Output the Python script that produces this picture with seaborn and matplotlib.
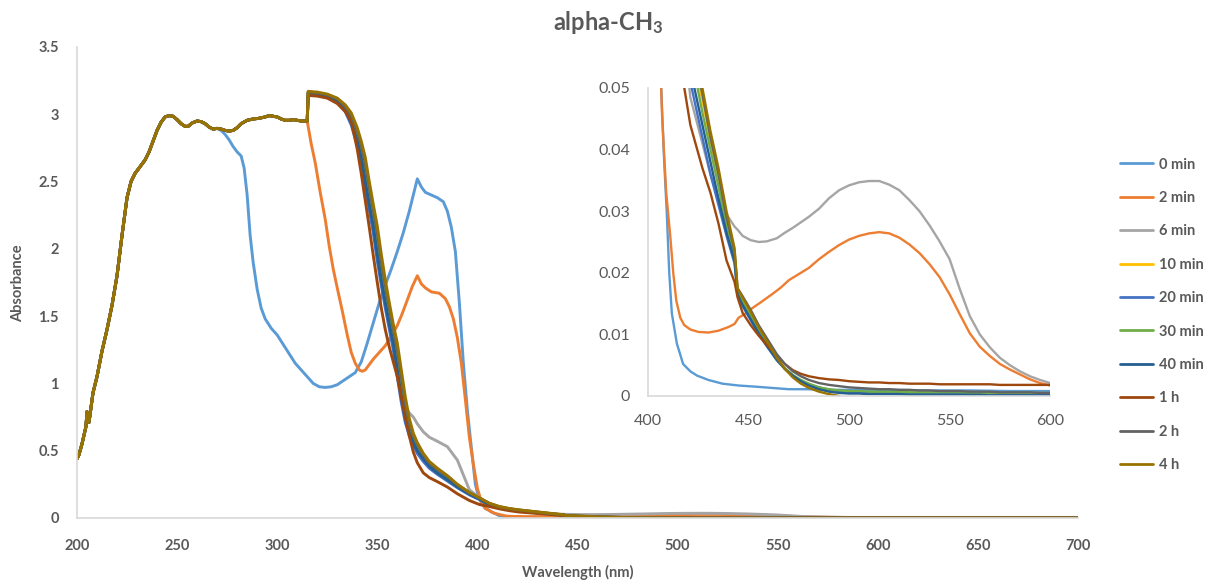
import numpy as np
import pandas as pd
import matplotlib
matplotlib.use("Agg")
import matplotlib.pyplot as plt
from matplotlib.lines import Line2D
from matplotlib.ticker import FuncFormatter
import seaborn as sns

# ---------------- data ----------------
series_names = ["0 min", "2 min", "6 min", "10 min", "20 min", "30 min",
                "40 min", "1 h", "2 h", "4 h"]
series_colors = ["#5B9BD5", "#ED7D31", "#A5A5A5", "#FFC000", "#4472C4",
                 "#70AD47", "#255E91", "#9E480E", "#636363", "#997300"]

# shared spectrum 200-315 nm (identical for all samples)
wl_common = [200, 201, 202.5, 204.5, 205, 206, 208, 210, 212.5, 215, 217.5, 220,
             222.5, 225, 227, 229, 231.5, 234, 236, 238, 240, 242, 244, 246, 248,
             250, 252, 254, 255.5, 257.5, 260, 262, 264, 266, 268, 270, 272, 274,
             276, 278, 280, 282, 285, 288, 291, 294, 296, 298, 300, 302, 304, 306,
             308, 310, 312, 315]
abs_common = [0.44, 0.47, 0.55, 0.68, 0.79, 0.71, 0.93, 1.05, 1.24, 1.40, 1.58, 1.80,
              2.10, 2.38, 2.50, 2.56, 2.61, 2.66, 2.72, 2.80, 2.88, 2.94, 2.98, 2.99,
              2.985, 2.96, 2.93, 2.91, 2.91, 2.935, 2.95, 2.945, 2.93, 2.905, 2.89,
              2.895, 2.89, 2.88, 2.875, 2.88, 2.90, 2.93, 2.955, 2.965, 2.97, 2.98,
              2.99, 2.985, 2.98, 2.965, 2.955, 2.955, 2.96, 2.955, 2.95, 2.95]

# 0 min: own values from 272 nm
wl_0min = [272, 274, 276, 278, 280, 282, 283.5, 285, 286.5, 288, 290, 292, 294, 297,
           300, 303, 306, 309, 312, 315, 318, 321, 324, 327, 330, 333, 336, 339, 342,
           345, 348, 351, 354, 357, 360, 363, 366, 368, 370, 372, 374, 377, 380, 383,
           385, 387, 389, 391, 393, 395, 397, 399, 400, 402, 404, 405, 406.5, 408,
           409.3, 410.5, 411.8, 414.3, 417.4, 421, 424.4, 430, 437, 445, 454, 462,
           470, 480, 490, 500, 520, 540, 560, 580, 600, 620, 640, 660, 680, 700]
abs_0min = [2.88, 2.85, 2.81, 2.76, 2.72, 2.69, 2.60, 2.40, 2.10, 1.90, 1.70, 1.56,
            1.48, 1.41, 1.36, 1.29, 1.22, 1.15, 1.10, 1.05, 1.00, 0.975, 0.97, 0.975,
            0.99, 1.02, 1.05, 1.08, 1.16, 1.30, 1.45, 1.60, 1.73, 1.85, 1.98, 2.12,
            2.28, 2.40, 2.52, 2.46, 2.42, 2.40, 2.38, 2.35, 2.28, 2.16, 1.98, 1.60,
            1.15, 0.80, 0.52, 0.25, 0.19, 0.11, 0.07, 0.065, 0.05, 0.038, 0.0296,
            0.02, 0.0134, 0.0085, 0.0052, 0.0040, 0.0033, 0.0026, 0.0020, 0.0017,
            0.0015, 0.0013, 0.0011, 0.0011, 0.0010, 0.0010, 0.0010, 0.0009, 0.0009,
            0.0008, 0.0008, 0.0008, 0.0007, 0.0007, 0.0006, 0.0006]

# 2 min: own values from 317 nm
wl_2min = [317, 319, 321.5, 324, 326, 328, 330, 332.5, 335, 337, 339, 341, 342.5, 344,
           346, 348, 351, 354, 357, 360, 362.5, 365, 367.5, 370, 372, 374, 377, 381,
           384, 386, 388, 390, 392, 394, 396, 398, 400, 402, 404, 406, 407, 409, 411,
           412.5, 414, 416, 418, 421, 425, 430, 435, 440, 443, 445, 448, 452, 456,
           462, 466, 470, 475, 480, 485, 490, 495, 500, 505, 510, 515, 520, 525, 530,
           535, 540, 545, 550, 555, 560, 565, 570, 575, 580, 585, 590, 595, 600, 620,
           640, 660, 680, 700]
abs_2min = [2.78, 2.64, 2.42, 2.22, 2.02, 1.85, 1.71, 1.54, 1.36, 1.23, 1.15, 1.10,
            1.09, 1.10, 1.14, 1.18, 1.23, 1.28, 1.35, 1.43, 1.52, 1.62, 1.72, 1.80,
            1.74, 1.71, 1.68, 1.67, 1.63, 1.57, 1.48, 1.34, 1.15, 0.88, 0.60, 0.40,
            0.22, 0.12, 0.07, 0.055, 0.045, 0.033, 0.026, 0.020, 0.0155, 0.0127,
            0.0115, 0.0108, 0.0104, 0.0103, 0.0106, 0.0112, 0.0117, 0.0127, 0.0133,
            0.0143, 0.0152, 0.0166, 0.0176, 0.0188, 0.0198, 0.0208, 0.0222, 0.0234,
            0.0245, 0.0254, 0.0260, 0.0264, 0.0266, 0.0264, 0.0257, 0.0246, 0.0232,
            0.0214, 0.0193, 0.0165, 0.0133, 0.0102, 0.0080, 0.0065, 0.0052, 0.0043,
            0.0035, 0.0027, 0.0021, 0.0017, 0.0012, 0.0010, 0.0009, 0.0008, 0.0008]

# 6 min ... 4 h: own values from 315.5 nm (after detector step)
wl_late = [315.5, 320, 325, 330, 334, 337, 340, 342, 344, 346, 348, 350, 352, 354,
           356, 358, 360, 362, 364, 366, 368, 370, 373, 376, 380, 385, 390, 396, 401,
           406, 411, 416, 421, 427, 431, 435, 439, 443, 444.5, 447, 451, 455, 459,
           464, 468, 472, 476, 480, 485, 490, 495, 500, 505, 510, 515, 520, 525, 530,
           535, 540, 545, 550, 555, 560, 565, 570, 575, 580, 585, 590, 595, 600, 620,
           640, 660, 680, 700]
abs_6min = [3.165, 3.16, 3.145, 3.10, 3.04, 2.96, 2.825, 2.71, 2.545, 2.37, 2.21, 2.01,
            1.82, 1.64, 1.48, 1.335, 1.15, 0.97, 0.83, 0.78, 0.75, 0.70, 0.64, 0.60,
            0.57, 0.53, 0.43, 0.21, 0.15, 0.105, 0.08, 0.064, 0.0485, 0.041, 0.036,
            0.032, 0.0295, 0.0275, 0.027, 0.026, 0.0253, 0.025, 0.0251, 0.0256,
            0.0265, 0.0273, 0.0282, 0.0291,
            0.0304, 0.0321, 0.0334, 0.0342, 0.0347, 0.0349, 0.0349, 0.0343, 0.0334,
            0.0318, 0.0300, 0.0277, 0.0251, 0.0222, 0.0174, 0.0130, 0.0100, 0.0079,
            0.0062, 0.0050, 0.0040, 0.0032, 0.0026, 0.0021,
            0.0014, 0.0011, 0.0010, 0.0009, 0.0009]
abs_10min = [3.165, 3.16, 3.145, 3.11, 3.05, 2.975, 2.85, 2.74, 2.59, 2.415, 2.25,
             2.065, 1.865, 1.685, 1.52, 1.37, 1.20, 1.00, 0.82, 0.685, 0.595, 0.54,
             0.465, 0.405, 0.355, 0.305, 0.243, 0.185, 0.146, 0.104, 0.082, 0.068,
             0.058, 0.048, 0.0415, 0.0355, 0.0285, 0.023, 0.017, 0.0155, 0.0132,
             0.0108, 0.0086, 0.0060, 0.0045, 0.0033, 0.0024, 0.0017,
             0.0011, 0.0008, 0.0006, 0.0005, 0.0005, 0.0004, 0.0004, 0.0004, 0.0004,
             0.0003, 0.0003, 0.0003, 0.0003, 0.0003, 0.0003, 0.0003, 0.0002, 0.0002,
             0.0002, 0.0002, 0.0002, 0.0002, 0.0002, 0.0002,
             0.0002, 0.0002, 0.0002, 0.0002, 0.0002]
abs_20min = [3.155, 3.15, 3.13, 3.09, 3.02, 2.92, 2.77, 2.635, 2.46, 2.29, 2.12, 1.91,
             1.73, 1.56, 1.405, 1.25, 1.05, 0.86, 0.71, 0.61, 0.54, 0.48, 0.42, 0.37,
             0.325, 0.275, 0.225, 0.172, 0.137, 0.095, 0.075, 0.061, 0.051, 0.042,
             0.036, 0.031, 0.026, 0.0215, 0.0163, 0.0146, 0.0123, 0.010, 0.0081,
             0.0058, 0.0044, 0.0033, 0.0025, 0.0019,
             0.0014, 0.0010, 0.0008, 0.0007, 0.0006, 0.0006, 0.0005, 0.0005, 0.0005,
             0.0005, 0.0004, 0.0004, 0.0004, 0.0004, 0.0004, 0.0004, 0.0004, 0.0004,
             0.0003, 0.0003, 0.0003, 0.0003, 0.0003, 0.0003,
             0.0003, 0.0003, 0.0003, 0.0003, 0.0003]
abs_30min = [3.16, 3.155, 3.14, 3.10, 3.04, 2.96, 2.825, 2.71, 2.545, 2.37, 2.21, 2.01,
             1.82, 1.64, 1.48, 1.335, 1.15, 0.95, 0.78, 0.66, 0.58, 0.525, 0.455,
             0.395, 0.345, 0.295, 0.238, 0.182, 0.143, 0.10, 0.08, 0.066, 0.056,
             0.046, 0.040, 0.034, 0.0275, 0.0225, 0.0168, 0.0152, 0.013, 0.0106,
             0.0085, 0.006, 0.0045, 0.0034, 0.0026, 0.002,
             0.0014, 0.0011, 0.0009, 0.0008, 0.0008, 0.0007, 0.0007, 0.0007, 0.0007,
             0.0006, 0.0006, 0.0006, 0.0006, 0.0006, 0.0006, 0.0005, 0.0005, 0.0005,
             0.0005, 0.0005, 0.0005, 0.0005, 0.0005, 0.0005,
             0.0005, 0.0005, 0.0004, 0.0004, 0.0004]
abs_40min = [3.16, 3.155, 3.135, 3.095, 3.03, 2.94, 2.80, 2.68, 2.50, 2.33, 2.17, 1.96,
             1.77, 1.60, 1.44, 1.30, 1.10, 0.90, 0.74, 0.63, 0.56, 0.50, 0.44, 0.385,
             0.335, 0.285, 0.232, 0.178, 0.14, 0.097, 0.077, 0.063, 0.053, 0.044,
             0.038, 0.032, 0.0265, 0.022, 0.0165, 0.0148, 0.0125, 0.0102, 0.0082,
             0.0059, 0.0044, 0.0033, 0.0024, 0.0017,
             0.0011, 0.0007, 0.0005, 0.0004, 0.0004, 0.0003, 0.0003, 0.0003, 0.0003,
             0.0002, 0.0002, 0.0002, 0.0002, 0.0002, 0.0002, 0.0002, 0.0002, 0.0001,
             0.0001, 0.0001, 0.0001, 0.0001, 0.0001, 0.0001,
             0.0001, 0.0001, 0.0001, 0.0001, 0.0001]
abs_1h = [3.14, 3.135, 3.12, 3.08, 3.02, 2.95, 2.74, 2.56, 2.36, 2.16, 1.95, 1.75,
          1.56, 1.40, 1.27, 1.16, 1.05, 0.90, 0.75, 0.61, 0.49, 0.41, 0.335, 0.30,
          0.27, 0.23, 0.18, 0.13, 0.10, 0.085, 0.068, 0.054, 0.044, 0.037, 0.033,
          0.028, 0.022, 0.0185, 0.016, 0.0135, 0.0115, 0.0098, 0.0083, 0.0066,
          0.0052, 0.0042, 0.0036, 0.0032,
          0.0029, 0.0027, 0.0026, 0.0024, 0.0023, 0.0022, 0.0022, 0.0021, 0.0021,
          0.0020, 0.0020, 0.0020, 0.0019, 0.0019, 0.0019, 0.0019, 0.0019, 0.0019,
          0.0018, 0.0018, 0.0018, 0.0018, 0.0018, 0.0018,
          0.0018, 0.0017, 0.0017, 0.0017, 0.0017]
abs_2h = [3.165, 3.16, 3.145, 3.115, 3.06, 2.99, 2.875, 2.77, 2.635, 2.46, 2.29, 2.12,
          1.91, 1.73, 1.56, 1.405, 1.25, 1.05, 0.86, 0.71, 0.61, 0.55, 0.47, 0.41,
          0.36, 0.31, 0.247, 0.188, 0.148, 0.108, 0.084, 0.069, 0.059, 0.049, 0.042,
          0.036, 0.029, 0.0235, 0.0175, 0.0162, 0.014, 0.0115, 0.0094, 0.0068,
          0.0052, 0.0040, 0.0032, 0.0026,
          0.0021, 0.0018, 0.0016, 0.0014, 0.0013, 0.0012, 0.0011, 0.0011, 0.0010,
          0.0010, 0.0009, 0.0009, 0.0008, 0.0008, 0.0008, 0.0007, 0.0007, 0.0007,
          0.0006, 0.0006, 0.0006, 0.0006, 0.0005, 0.0005,
          0.0005, 0.0005, 0.0004, 0.0004, 0.0004]
abs_4h = [3.17, 3.165, 3.15, 3.12, 3.07, 3.01, 2.90, 2.80, 2.68, 2.50, 2.33, 2.17,
          1.96, 1.77, 1.60, 1.44, 1.30, 1.10, 0.90, 0.74, 0.63, 0.56, 0.48, 0.42,
          0.37, 0.315, 0.25, 0.19, 0.15, 0.11, 0.085, 0.07, 0.06, 0.05, 0.043,
          0.037, 0.030, 0.024, 0.0175, 0.016, 0.0137, 0.0112, 0.009, 0.0062,
          0.0044, 0.0030, 0.0020, 0.0013,
          0.0007, 0.0003, 0.0, -0.001, -0.001, -0.001, -0.001, -0.001, -0.001,
          -0.001, -0.001, -0.001, -0.001, -0.001, -0.001, -0.001, -0.001, -0.001,
          -0.001, -0.001, -0.001, -0.001, -0.001, -0.001,
          -0.001, -0.001, -0.001, -0.001, -0.001]

main_xticks = [200, 250, 300, 350, 400, 450, 500, 550, 600, 650, 700]
main_yticks = [0, 0.5, 1, 1.5, 2, 2.5, 3, 3.5]
inset_xticks = [400, 450, 500, 550, 600]
inset_yticks = [0, 0.01, 0.02, 0.03, 0.04, 0.05]

# ---------------- assemble long table ----------------
frames = []
common = pd.DataFrame({"wl": wl_common, "A": abs_common})
def add(name, wl, ab, cut=None):
    base = common if cut is None else common[common.wl <= cut]
    d = pd.concat([base, pd.DataFrame({"wl": wl, "A": ab})], ignore_index=True)
    d["series"] = name
    frames.append(d)

add("0 min", wl_0min, abs_0min, cut=270)
add("2 min", wl_2min, abs_2min)
add("6 min", wl_late, abs_6min)
add("10 min", wl_late, abs_10min)
add("20 min", wl_late, abs_20min)
add("30 min", wl_late, abs_30min)
add("40 min", wl_late, abs_40min)
add("1 h", wl_late, abs_1h)
add("2 h", wl_late, abs_2h)
add("4 h", wl_late, abs_4h)
df = pd.concat(frames, ignore_index=True)

# ---------------- figure ----------------
sns.set_theme(style="white")
plt.rcParams["font.family"] = ["Lato", "DejaVu Sans"]
plt.rcParams["mathtext.fontset"] = "custom"
plt.rcParams["mathtext.rm"] = "Lato"
plt.rcParams["mathtext.bf"] = "Lato:bold"

TXT = "#595959"
SPINE = "#D9D9D9"
palette = dict(zip(series_names, series_colors))

fig = plt.figure(figsize=(12.16, 5.82), dpi=100)
ax = fig.add_axes([0.0633, 0.110, 0.8232, 0.8093])
axin = fig.add_axes([0.533, 0.3196, 0.3306, 0.5292])

for a, lw in ((ax, 2.1), (axin, 1.7)):
    sns.lineplot(data=df, x="wl", y="A", hue="series", hue_order=series_names,
                 palette=palette, estimator=None, sort=False, linewidth=lw,
                 legend=False, ax=a)

fmt = FuncFormatter(lambda v, p: f"{v:g}")

# main axes
ax.set_xlim(200, 700)
ax.set_ylim(0, 3.5)
ax.set_xticks(main_xticks)
ax.set_yticks(main_yticks)
ax.xaxis.set_major_formatter(fmt)
ax.yaxis.set_major_formatter(fmt)
ax.tick_params(axis="both", length=0, labelsize=10.5, labelcolor=TXT)
ax.tick_params(axis="x", pad=15)
ax.tick_params(axis="y", pad=13)
for lab in ax.get_xticklabels() + ax.get_yticklabels():
    lab.set_fontweight("bold")
ax.set_xlabel("")
ax.set_ylabel("")

# inset axes
axin.set_xlim(400, 600)
axin.set_ylim(0, 0.05)
axin.set_xticks(inset_xticks)
axin.set_yticks(inset_yticks)
axin.xaxis.set_major_formatter(fmt)
axin.yaxis.set_major_formatter(fmt)
axin.tick_params(axis="both", length=0, labelsize=11.5, labelcolor=TXT)
axin.tick_params(axis="x", pad=13)
axin.tick_params(axis="y", pad=13)
axin.set_xlabel("")
axin.set_ylabel("")
axin.patch.set_alpha(0)

for a in (ax, axin):
    for s in ("top", "right"):
        a.spines[s].set_visible(False)
    for s in ("left", "bottom"):
        a.spines[s].set_color(SPINE)
        a.spines[s].set_linewidth(1.2)

# titles / labels
fig.text(0.5, 0.962, r"alpha-CH$\mathbf{_3}$", ha="center", va="center",
         fontsize=17, fontweight="bold", color=TXT)
fig.text(0.4749, 0.0172, "Wavelength (nm)", ha="center", va="center",
         fontsize=10.5, fontweight="bold", color=TXT)
fig.text(0.0148, 0.514, "Absorbance", ha="center", va="center", rotation=90,
         fontsize=10.5, fontweight="bold", color=TXT)

# legend
handles = [Line2D([], [], color=palette[n], lw=2.0) for n in series_names]
leg = fig.legend(handles, series_names, loc="center left",
                 bbox_to_anchor=(0.921, 0.459), frameon=False, borderpad=0,
                 borderaxespad=0, fontsize=10.5, labelspacing=1.33,
                 handlelength=2.3, handletextpad=0.35)
for t in leg.get_texts():
    t.set_color(TXT)
    t.set_fontweight("bold")

fig.savefig("out.png", dpi=100)
